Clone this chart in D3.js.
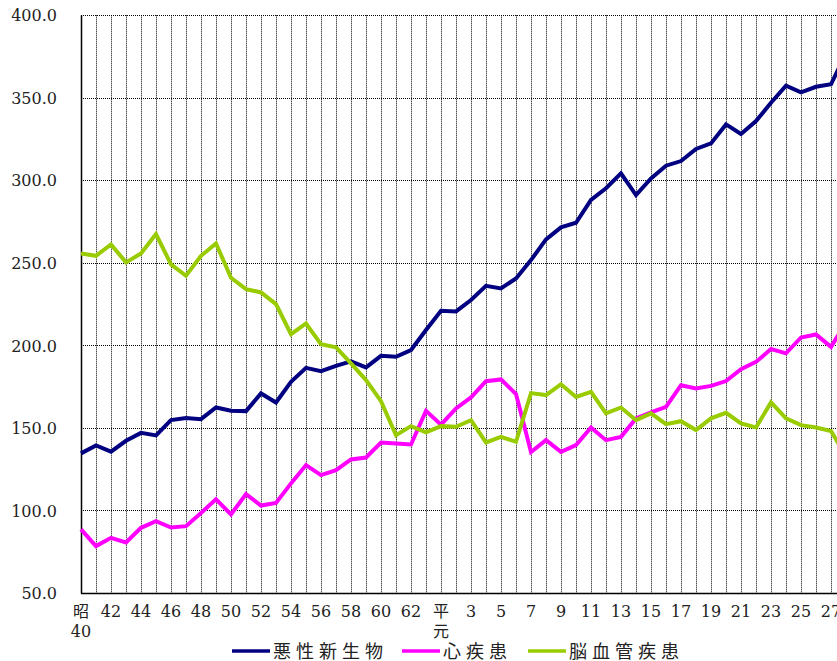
<!DOCTYPE html>
<html><head><meta charset="utf-8">
<script src="https://cdn.jsdelivr.net/npm/d3@7"></script>
<style>
html,body{margin:0;padding:0;background:#fff;}
svg{display:block;overflow:hidden;}
</style></head>
<body>
<svg id="chart" width="837" height="661"></svg>
<script>
const categories = ["昭40","41","42","43","44","45","46","47","48","49","50","51","52","53","54","55","56","57","58","59","60","61","62","63",
  "平元","2","3","4","5","6","7","8","9","10","11","12","13","14","15","16","17","18","19","20","21","22","23","24","25","26","27","28"];
const tickLabels = [["昭","40"],["42"],["44"],["46"],["48"],["50"],["52"],["54"],["56"],["58"],["60"],["62"],["平","元"],
  ["3"],["5"],["7"],["9"],["11"],["13"],["15"],["17"],["19"],["21"],["23"],["25"],["27"]];
const cancer = [134.6,139.4,135.6,142.2,147.0,145.5,154.8,156.0,155.3,162.4,160.4,160.2,170.9,165.4,177.9,186.4,184.4,187.6,190.3,186.7,
  193.7,193.1,197.2,209.3,221.0,220.6,227.5,236.1,234.5,240.6,251.7,264.2,271.5,274.3,288.1,295.2,304.2,291.1,301.2,308.9,
  311.7,319.0,322.4,333.9,328.1,335.9,347.0,357.3,353.3,356.7,358.2,377.0];
const heart = [88.5,78.4,83.4,80.6,89.5,93.5,89.7,90.5,98.5,106.8,97.6,109.9,103.0,104.6,116.4,127.5,121.4,124.4,130.9,132.1,
  141.2,140.6,140.0,160.4,152.0,161.8,168.5,178.3,179.4,170.5,135.4,142.6,135.5,139.6,150.3,142.6,144.6,155.8,159.4,162.8,
  175.9,173.9,175.5,178.4,185.6,190.0,197.8,195.2,204.8,206.6,199.1,214.0];
const stroke = [255.7,254.3,261.2,250.3,255.7,267.5,249.1,242.2,254.3,261.8,241.0,234.1,232.1,225.0,206.8,213.3,200.8,198.8,189.1,179.0,
  166.2,145.6,151.1,147.3,151.1,150.7,154.7,141.2,144.6,141.6,171.1,169.9,176.5,168.8,171.9,158.8,162.4,154.7,158.8,152.3,
  154.1,148.7,155.8,159.2,152.7,150.3,165.5,155.8,151.7,150.3,148.1,133.0];
const seriesNames = ["悪性新生物","心疾患","脳血管疾患"];
const seriesColors = ["#000080","#FF00FF","#99CC00"];
const yTicks = [50,100,150,200,250,300,350,400];

(function(){
const svg = d3.select("#chart");
const mLeft = 81, mTop = 15.3, mBottom = 593, step = 15;
const x = d3.scalePoint().domain(categories).range([mLeft, mLeft + step*(categories.length-1)]).padding(0);
const y = d3.scaleLinear().domain([50,400]).range([mBottom, mTop]);
const fontNum = "'DejaVu Serif','Noto Sans CJK JP',serif";

// horizontal gridlines
svg.append("g").selectAll("line").data(yTicks.filter(d => d !== 50)).join("line")
  .attr("x1", mLeft).attr("x2", 900)
  .attr("y1", d => Math.round(y(d))+0.5).attr("y2", d => Math.round(y(d))+0.5)
  .attr("stroke", "#000").attr("stroke-width", 1).attr("stroke-dasharray", "1,1");
// vertical gridlines
svg.append("g").selectAll("line").data(categories.slice(1)).join("line")
  .attr("x1", d => Math.round(x(d))+0.5).attr("x2", d => Math.round(x(d))+0.5)
  .attr("y1", mTop).attr("y2", mBottom)
  .attr("stroke", "#000").attr("stroke-width", 1).attr("stroke-dasharray", "1,1");

// axis lines
svg.append("line").attr("x1", mLeft+0.5).attr("x2", mLeft+0.5).attr("y1", mTop).attr("y2", mBottom+0.5)
  .attr("stroke", "#000").attr("stroke-width", 1.5);
svg.append("line").attr("x1", mLeft).attr("x2", 900).attr("y1", mBottom+0.5).attr("y2", mBottom+0.5)
  .attr("stroke", "#000").attr("stroke-width", 1.5);

// y axis labels
const yAxis = d3.axisLeft(y).tickValues(yTicks).tickFormat(d3.format(".1f")).tickSize(0).tickPadding(24);
const gy = svg.append("g").attr("transform", `translate(${mLeft},0)`).call(yAxis);
gy.select(".domain").remove();
gy.selectAll("text").attr("font-family", fontNum).attr("font-size", 16).attr("fill", "#222").attr("dy", "0.35em");

// x axis labels
const tickCats = categories.filter((d,i) => i % 2 === 0);
const gx = svg.append("g");
tickCats.forEach((c,i) => {
  const t = gx.append("text").attr("x", x(c)).attr("text-anchor","middle")
    .attr("font-family", fontNum).attr("font-size", 16).attr("fill", "#222");
  tickLabels[i].forEach((s,j) => {
    t.append("tspan").attr("x", x(c)).attr("y", 617 + j*20).text(s);
  });
});

// series lines
const seriesData = [cancer, heart, stroke];
const line = d3.line().x((d,i) => x(categories[i])).y(d => y(d));
seriesData.forEach((s,i) => {
  svg.append("path").datum(s).attr("d", line).attr("fill","none")
    .attr("stroke", seriesColors[i]).attr("stroke-width", 4).attr("stroke-linejoin","miter");
});

// legend
const legendX = [232, 402, 528];
const lg = svg.append("g");
seriesNames.forEach((n,i) => {
  lg.append("line").attr("x1", legendX[i]).attr("x2", legendX[i]+38).attr("y1", 651).attr("y2", 651)
    .attr("stroke", seriesColors[i]).attr("stroke-width", 3.5);
  lg.append("text").attr("x", legendX[i]+41).attr("y", 657.5)
    .attr("font-family", "'Noto Sans CJK JP',sans-serif").attr("font-size", 18)
    .attr("letter-spacing", "5px").attr("fill", "#222").text(n);
});
})();
</script>
</body></html>
